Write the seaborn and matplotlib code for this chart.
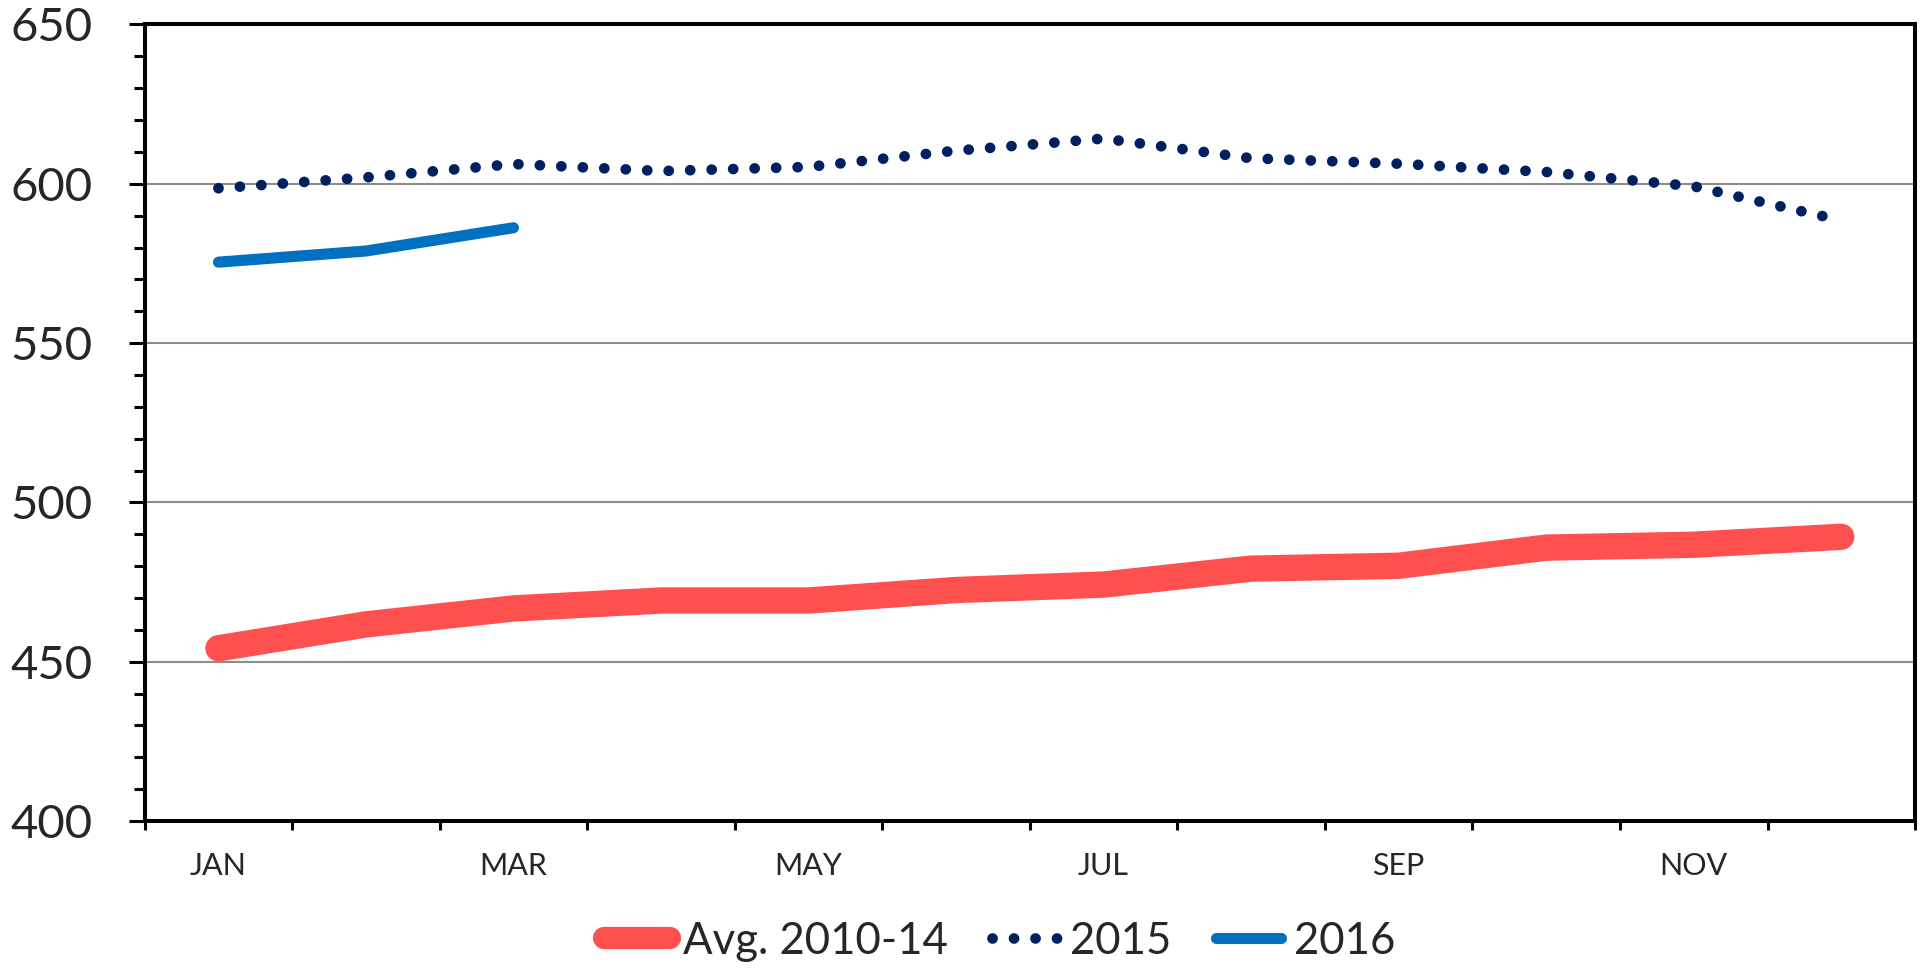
import numpy as np
import pandas as pd
import matplotlib
matplotlib.use("Agg")
import matplotlib.pyplot as plt
from matplotlib.ticker import FixedLocator, MultipleLocator
import seaborn as sns

# Monthly values
months = ["JAN", "FEB", "MAR", "APR", "MAY", "JUN",
          "JUL", "AUG", "SEP", "OCT", "NOV", "DEC"]
avg_2010_14 = [454.2, 461.7, 466.7, 469.2, 469.2, 472.5,
               474.2, 479.2, 480.1, 485.8, 486.7, 489.2]
y2015 = [598.6, 602.0, 606.2, 604.0, 605.3, 610.4,
         614.2, 608.0, 606.3, 603.7, 599.2, 588.5]
y2016 = [575.4, 578.9, 586.2]
label_months = ["JAN", "MAR", "MAY", "JUL", "SEP", "NOV"]

df = pd.DataFrame({"month": months, "avg": avg_2010_14, "y2015": y2015})
df["pos"] = np.arange(len(months))
df16 = pd.DataFrame({"month": months[:len(y2016)], "y2016": y2016})
df16["pos"] = np.arange(len(y2016))

sns.set_theme(style="white")
plt.rcParams["font.family"] = ["Lato", "DejaVu Sans"]

fig = plt.figure(figsize=(19.21, 9.68), dpi=100)
ax = fig.add_axes([0.0753, 0.1519, 0.9216, 0.8228])

sns.lineplot(data=df, x="pos", y="avg", ax=ax, color="#FF5050", lw=19,
             solid_capstyle="round", solid_joinstyle="round", label="Avg. 2010-14")
sns.lineplot(data=df, x="pos", y="y2015", ax=ax, color="#002060", lw=7.7,
             linestyle=(0, (0.01, 2.0)), dash_capstyle="round", label="2015")
sns.lineplot(data=df16, x="pos", y="y2016", ax=ax, color="#0070C0", lw=8,
             solid_capstyle="round", solid_joinstyle="round", label="2016")

ax.set_xlim(-0.5, 11.5)
ax.set_ylim(400, 650)
ax.set_xlabel("")
ax.set_ylabel("")

# y axis: labelled ticks every 50, small ticks every 10
ax.yaxis.set_major_locator(MultipleLocator(50))
ax.yaxis.set_minor_locator(MultipleLocator(10))
ax.tick_params(axis="y", which="major", direction="out", length=11.5, width=2.2,
               color="black", labelsize=34, pad=26, left=True)
ax.tick_params(axis="y", which="minor", direction="out", length=8, width=2.2,
               color="black", left=True)

# x axis: tick marks between months, labels on every other month
ax.xaxis.set_major_locator(FixedLocator(np.arange(-0.5, 12, 1)))
ax.xaxis.set_minor_locator(FixedLocator([months.index(m) for m in label_months]))
ax.set_xticklabels([], minor=False)
ax.set_xticklabels(label_months, minor=True)
ax.tick_params(axis="x", which="major", direction="out", length=6.5, width=2.2,
               color="black", bottom=True)
ax.tick_params(axis="x", which="minor", length=0, labelsize=22, pad=22)

ax.grid(axis="y", which="major", color="#8C8C8C", lw=1.5)
ax.set_axisbelow(True)
for s in ax.spines.values():
    s.set_visible(True)
    s.set_color("black")
    s.set_linewidth(2.9)

ax.get_legend().remove()
handles, labels = ax.get_legend_handles_labels()
leg = fig.legend(handles, labels, loc="center", bbox_to_anchor=(1000 / 1921, 1 - 941 / 968),
                 ncol=3, frameon=False, fontsize=31.5, handlelength=1.5,
                 handletextpad=0.3, columnspacing=1.0)
for line in leg.get_lines():
    if line.get_label() == "Avg. 2010-14":
        line.set_linewidth(16)

fig.savefig("out.png", dpi=100)
